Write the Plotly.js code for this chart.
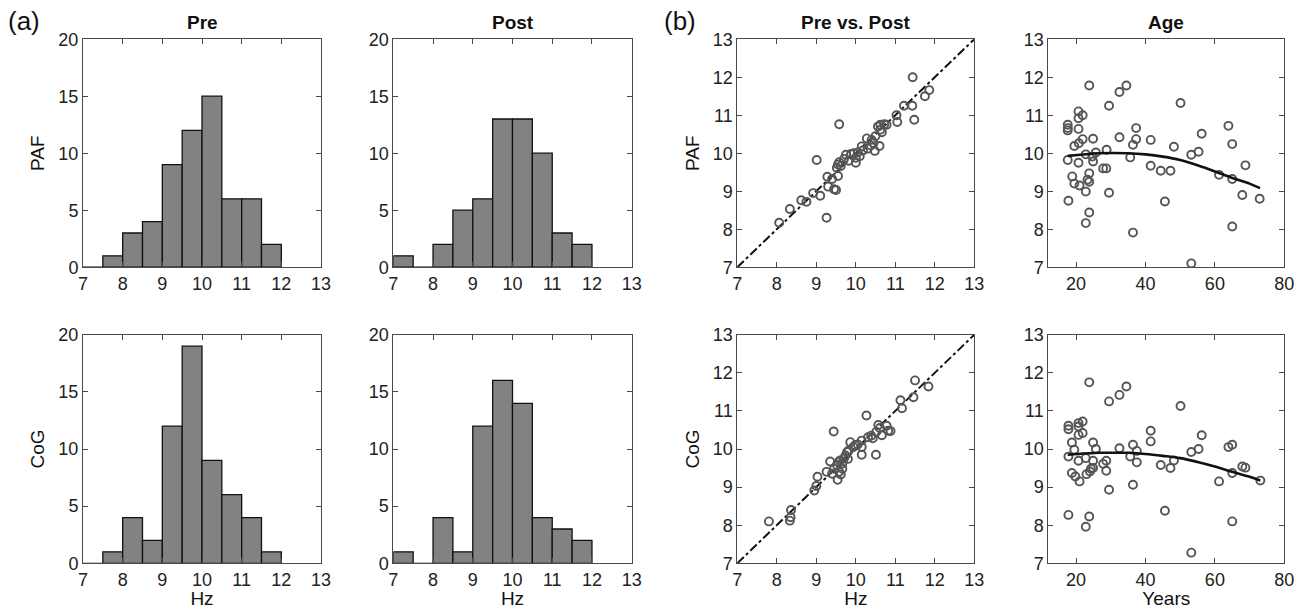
<!DOCTYPE html>
<html>
<head>
<meta charset="utf-8">
<script src="https://cdn.plot.ly/plotly-3.0.1.min.js"></script>
<style>html,body{margin:0;padding:0;background:#fff;}#chart{width:1304px;height:609px;}</style>
</head>
<body>
<div id="chart"></div>
<script>
// ---------- DATA ----------
const binCenters = [7.25, 7.75, 8.25, 8.75, 9.25, 9.75, 10.25, 10.75, 11.25, 11.75];
const prePAFCounts  = [0, 1, 3, 4, 9, 12, 15, 6, 6, 2];
const postPAFCounts = [1, 0, 2, 5, 6, 13, 13, 10, 3, 2];
const preCoGCounts  = [0, 1, 4, 2, 12, 19, 9, 6, 4, 1];
const postCoGCounts = [1, 0, 4, 1, 12, 16, 14, 4, 3, 2];

const prePAF  = [8.06,8.33,8.62,8.75,8.92,9.10,9.01,9.26,9.28,9.30,9.45,9.50,9.55,9.52,9.55,9.58,9.58,9.62,9.75,9.82,9.88,9.95,10.00,10.00,10.05,10.10,10.18,10.28,10.30,10.38,10.45,10.48,10.50,10.60,10.56,10.62,10.66,10.72,10.78,11.03,11.05,11.22,11.43,11.44,11.48,11.75,11.86,9.40,9.70,10.15,10.40,10.62];
const postPAF = [8.17,8.53,8.76,8.72,8.95,8.88,9.82,8.30,9.38,9.12,9.05,9.03,9.40,9.62,9.70,9.76,10.76,9.66,9.96,9.80,9.98,10.00,9.88,9.75,10.02,9.92,10.07,10.39,10.12,10.20,10.26,10.06,10.45,10.19,10.70,10.75,10.55,10.76,10.75,11.00,10.82,11.25,11.25,12.00,10.88,11.50,11.66,9.32,9.85,10.18,10.35,10.62];

const preCoG  = [7.80,8.33,8.35,8.36,8.95,9.00,9.03,9.26,9.35,9.44,9.45,9.52,9.54,9.56,9.58,9.62,9.66,9.66,9.70,9.74,9.78,9.80,9.82,9.86,9.94,9.98,10.15,10.15,10.15,10.27,10.31,10.39,10.43,10.51,10.52,10.57,10.61,10.66,10.78,10.82,10.88,11.13,11.17,11.46,11.50,11.84,9.40,9.60,10.05];
const postCoG = [8.10,8.12,8.21,8.40,8.91,9.03,9.27,9.40,9.67,10.46,9.48,9.58,9.19,9.65,9.40,9.33,9.48,9.62,9.75,9.83,9.92,9.74,9.96,10.18,10.05,10.10,10.22,10.05,9.85,10.88,10.31,10.35,10.28,9.85,10.45,10.63,10.55,10.36,10.61,10.48,10.47,11.28,11.07,11.36,11.80,11.64,9.35,9.70,10.12];

const identityLine = [7, 13];

const agePAF = [17.6,17.6,17.6,17.6,17.8,18.9,19.5,19.5,20.7,20.7,20.7,20.8,20.7,21.0,21.9,21.9,22.8,22.8,22.8,23.3,23.8,23.8,23.8,23.8,24.7,24.9,24.9,25.7,27.8,28.7,28.8,29.5,29.5,32.5,32.5,34.5,35.6,36.4,36.4,37.3,37.3,41.5,41.5,44.4,45.6,47.2,48.2,50.1,53.2,53.2,55.3,56.2,61.2,63.9,65.0,65.0,65.0,67.9,68.8,72.9];
const agePAFValues = [10.75,10.66,10.6,9.82,8.75,9.39,9.2,10.19,11.1,10.92,10.64,10.26,9.75,9.15,11.0,10.37,9.97,8.99,8.16,9.3,11.78,9.47,9.25,8.44,9.91,9.78,10.38,10.02,9.6,9.6,10.09,11.25,8.96,11.61,10.42,11.78,9.89,7.91,10.22,10.66,10.37,10.35,9.67,9.54,8.73,9.54,10.17,11.32,9.96,7.1,10.04,10.51,9.43,10.72,10.24,9.32,8.07,8.9,9.68,8.8];

const ageCoG = [17.8,17.8,17.8,17.8,18.8,18.8,19.5,19.8,20.7,20.7,20.7,20.7,21.0,21.9,21.9,22.8,22.8,23.0,23.8,23.8,24.0,24.3,24.9,24.9,24.9,25.7,27.8,28.7,28.7,29.5,29.5,32.5,32.5,34.5,35.6,36.4,36.4,37.5,37.5,41.5,41.5,44.4,45.6,47.2,48.2,50.1,53.2,53.2,55.3,56.2,61.2,63.9,65.0,65.0,65.0,67.9,68.8,73.1];
const ageCoGValues = [10.61,10.52,9.8,8.27,9.37,10.17,9.98,9.28,10.68,10.59,10.37,9.69,9.15,10.72,10.42,9.76,7.96,9.34,11.75,8.23,9.41,9.48,10.17,9.69,9.5,10.0,9.61,9.69,9.43,11.25,8.93,11.42,10.02,11.64,9.8,10.11,9.06,9.95,9.65,10.48,10.2,9.58,8.38,9.5,9.7,11.13,9.92,7.28,10.0,10.36,9.15,10.05,10.11,9.37,8.1,9.54,9.51,9.17];

const fitAgePAF = [17.6, 26.6, 35, 40, 45, 50, 55, 60, 65, 70, 73];
const fitPAF    = [9.93, 10.0, 10.0, 9.97, 9.91, 9.82, 9.68, 9.52, 9.35, 9.2, 9.08];
const fitAgeCoG = [17.6, 26.6, 30, 35, 40, 45, 50, 55, 60, 65, 70, 73.1];
const fitCoG    = [9.85, 9.9, 9.9, 9.9, 9.87, 9.82, 9.76, 9.66, 9.54, 9.4, 9.27, 9.17];

const histTicks = [7, 8, 9, 10, 11, 12, 13];
const countTicks = [0, 5, 10, 15, 20];
const ageTicks = [20, 40, 60, 80];

// ---------- LAYOUT HELPERS ----------
const W = 1304, H = 609;
const colsPx = [[83, 321], [393.3, 631.7], [737.3, 974.3], [1048.3, 1284.3]];
const rowsPx = [[39.2, 267.2], [334.7, 563.3]];
const xd = c => [colsPx[c][0] / W, colsPx[c][1] / W];
const yd = r => [1 - rowsPx[r][1] / H, 1 - rowsPx[r][0] / H];

const FONT = 'Liberation Sans, Arial, Helvetica, sans-serif';
const axBase = {
  showline: true, linecolor: '#4a4a4a', linewidth: 1, mirror: 'ticks',
  ticks: 'inside', ticklen: 5, tickcolor: '#4a4a4a', tickwidth: 1,
  zeroline: false, showgrid: false, fixedrange: true,
  tickfont: {family: FONT, size: 18, color: '#222'}
};
function ax(extra) { return Object.assign({}, axBase, extra); }

const barStyle = {type: 'bar', width: 0.5, marker: {color: '#828282', line: {color: '#111', width: 1.3}}, hoverinfo: 'skip', showlegend: false};
const ptStyle = {type: 'scatter', mode: 'markers', marker: {symbol: 'circle-open', size: 8, color: '#555', line: {width: 1.9, color: '#555'}}, showlegend: false, hoverinfo: 'skip'};
const diagStyle = {type: 'scatter', mode: 'lines', line: {color: '#111', width: 2, dash: 'dashdot'}, showlegend: false, hoverinfo: 'skip'};
const fitStyle = {type: 'scatter', mode: 'lines', line: {color: '#111', width: 2.6, shape: 'spline'}, showlegend: false, hoverinfo: 'skip'};

const traces = [
  Object.assign({}, barStyle, {x: binCenters, y: prePAFCounts, xaxis: 'x', yaxis: 'y'}),
  Object.assign({}, barStyle, {x: binCenters, y: postPAFCounts, xaxis: 'x2', yaxis: 'y2'}),
  Object.assign({}, diagStyle, {x: identityLine, y: identityLine, xaxis: 'x3', yaxis: 'y3'}),
  Object.assign({}, ptStyle, {x: prePAF, y: postPAF, xaxis: 'x3', yaxis: 'y3'}),
  Object.assign({}, ptStyle, {x: agePAF, y: agePAFValues, xaxis: 'x4', yaxis: 'y4'}),
  Object.assign({}, fitStyle, {x: fitAgePAF, y: fitPAF, xaxis: 'x4', yaxis: 'y4'}),
  Object.assign({}, barStyle, {x: binCenters, y: preCoGCounts, xaxis: 'x5', yaxis: 'y5'}),
  Object.assign({}, barStyle, {x: binCenters, y: postCoGCounts, xaxis: 'x6', yaxis: 'y6'}),
  Object.assign({}, diagStyle, {x: identityLine, y: identityLine, xaxis: 'x7', yaxis: 'y7'}),
  Object.assign({}, ptStyle, {x: preCoG, y: postCoG, xaxis: 'x7', yaxis: 'y7'}),
  Object.assign({}, ptStyle, {x: ageCoG, y: ageCoGValues, xaxis: 'x8', yaxis: 'y8'}),
  Object.assign({}, fitStyle, {x: fitAgeCoG, y: fitCoG, xaxis: 'x8', yaxis: 'y8'})
];

const xttl = (t) => ({text: t, font: {family: FONT, size: 19, color: '#111'}, standoff: 4});
const yttl = (t) => ({text: t, font: {family: FONT, size: 19, color: '#111'}, standoff: 8});

const layout = {
  width: W, height: H,
  margin: {l: 0, r: 0, t: 0, b: 0},
  paper_bgcolor: '#fff', plot_bgcolor: '#fff',
  bargap: 0,
  showlegend: false,
  font: {family: FONT},
  xaxis:  ax({domain: xd(0), anchor: 'y',  range: [7, 13], tickvals: histTicks}),
  yaxis:  ax({domain: yd(0), anchor: 'x',  range: [0, 20], tickvals: countTicks, title: yttl('PAF')}),
  xaxis2: ax({domain: xd(1), anchor: 'y2', range: [7, 13], tickvals: histTicks}),
  yaxis2: ax({domain: yd(0), anchor: 'x2', range: [0, 20], tickvals: countTicks}),
  xaxis3: ax({domain: xd(2), anchor: 'y3', range: [7, 13], tickvals: histTicks}),
  yaxis3: ax({domain: yd(0), anchor: 'x3', range: [7, 13], tickvals: histTicks, title: yttl('PAF')}),
  xaxis4: ax({domain: xd(3), anchor: 'y4', range: [12, 80], tickvals: ageTicks}),
  yaxis4: ax({domain: yd(0), anchor: 'x4', range: [7, 13], tickvals: histTicks}),
  xaxis5: ax({domain: xd(0), anchor: 'y5', range: [7, 13], tickvals: histTicks, title: xttl('Hz')}),
  yaxis5: ax({domain: yd(1), anchor: 'x5', range: [0, 20], tickvals: countTicks, title: yttl('CoG')}),
  xaxis6: ax({domain: xd(1), anchor: 'y6', range: [7, 13], tickvals: histTicks, title: xttl('Hz')}),
  yaxis6: ax({domain: yd(1), anchor: 'x6', range: [0, 20], tickvals: countTicks}),
  xaxis7: ax({domain: xd(2), anchor: 'y7', range: [7, 13], tickvals: histTicks, title: xttl('Hz')}),
  yaxis7: ax({domain: yd(1), anchor: 'x7', range: [7, 13], tickvals: histTicks, title: yttl('CoG')}),
  xaxis8: ax({domain: xd(3), anchor: 'y8', range: [12, 80], tickvals: ageTicks, title: xttl('Years')}),
  yaxis8: ax({domain: yd(1), anchor: 'x8', range: [7, 13], tickvals: histTicks}),
  annotations: []
};

const titles = ['Pre', 'Post', 'Pre vs. Post', 'Age'];
titles.forEach((t, i) => {
  layout.annotations.push({
    text: '<b>' + t + '</b>', xref: 'paper', yref: 'paper',
    x: (colsPx[i][0] + colsPx[i][1]) / 2 / W, y: 1 - 23 / H,
    xanchor: 'center', yanchor: 'middle', showarrow: false,
    font: {family: FONT, size: 19, color: '#111'}
  });
});
[['(a)', 6], ['(b)', 662]].forEach(([t, px]) => {
  layout.annotations.push({
    text: t, xref: 'paper', yref: 'paper', x: px / W, y: 1 - 21 / H,
    xanchor: 'left', yanchor: 'middle', showarrow: false,
    font: {family: FONT, size: 26, color: '#111'}
  });
});

Plotly.newPlot('chart', traces, layout, {staticPlot: true, displayModeBar: false});
</script>
</body>
</html>
